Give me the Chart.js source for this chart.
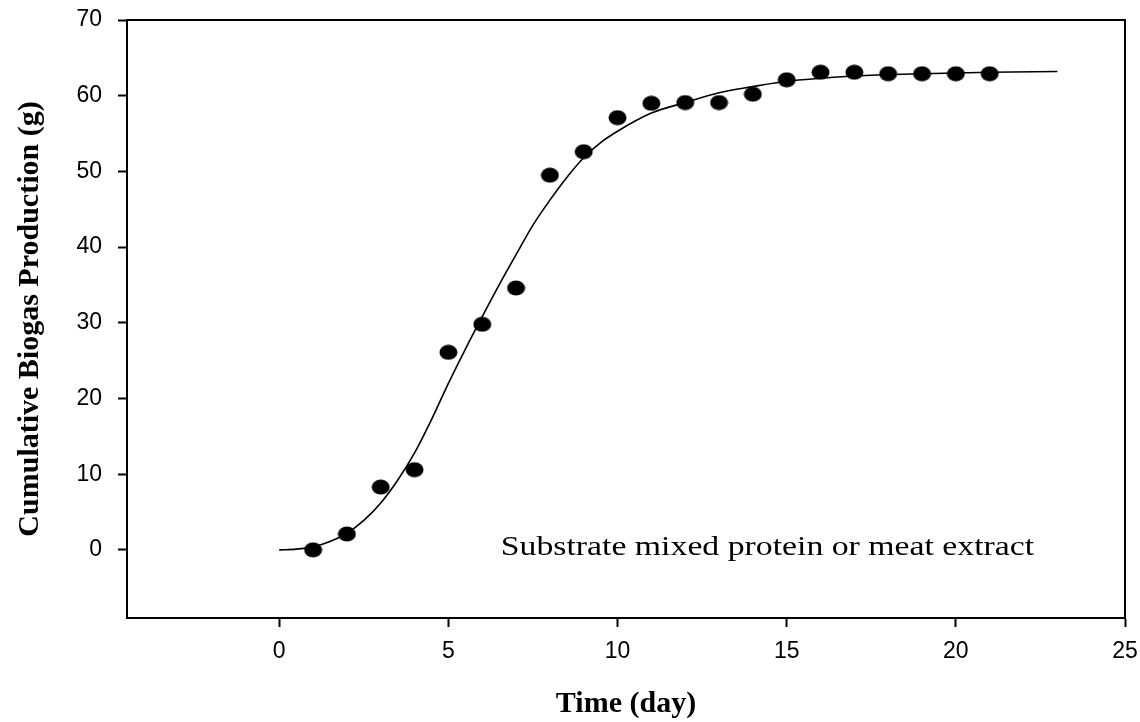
<!DOCTYPE html>
<html>
<head>
<meta charset="utf-8">
<script src="https://cdn.jsdelivr.net/npm/chart.js@4.4.1/dist/chart.umd.min.js"></script>
<style>
  body { margin: 0; background: #fff; }
  #wrap { width: 1140px; height: 722px; }
</style>
</head>
<body>
<div id="wrap"><canvas id="myChart"></canvas></div>
<script>
// measured points (day, cumulative biogas g)
const days = [1, 2, 3, 4, 5, 6, 7, 8, 9, 10, 11, 12, 13, 14, 15, 16, 17, 18, 19, 20, 21];
const biogas = [0.0, 2.1, 8.3, 10.6, 26.1, 29.8, 34.6, 49.5, 52.6, 57.1, 59.0, 59.1, 59.1, 60.2, 62.1, 63.1, 63.1, 62.9, 62.9, 62.9, 62.9];

// fitted curve
const fitDays = [0, 0.5, 1, 1.5, 2, 2.5, 3, 3.5, 4, 4.5, 5, 5.5, 6, 6.5, 7, 7.5, 8, 8.5, 9, 9.5, 10, 11, 12, 13, 14, 15, 16, 17, 18, 19, 20, 21, 23];
const fitBiogas = [0.0, 0.1, 0.4, 1.1, 2.2, 3.9, 6.2, 9.2, 12.8, 17.2, 22.0, 26.5, 30.8, 35.0, 39.0, 42.9, 46.2, 49.2, 51.8, 53.8, 55.3, 57.7, 59.1, 60.4, 61.2, 61.9, 62.3, 62.6, 62.8, 62.9, 63.0, 63.1, 63.2];

const xTicks = [0, 5, 10, 15, 20, 25];
const yTicks = [0, 10, 20, 30, 40, 50, 60, 70];

const noteText = 'Substrate mixed protein or meat extract';

function makeDot(w, h) {
    const c = document.createElement('canvas');
    c.width = w;
    c.height = h;
    const g = c.getContext('2d');
    g.fillStyle = '#000';
    g.beginPath();
    g.ellipse(w / 2, h / 2, w / 2 - 0.5, h / 2 - 0.5, 0, 0, Math.PI * 2);
    g.fill();
    return c;
}

// top + right edges of the box and the note inside the plot
const framePlugin = {
    id: 'frame',
    afterDraw(chart) {
        const ctx = chart.ctx;
        const a = chart.chartArea;
        ctx.save();
        ctx.strokeStyle = '#000';
        ctx.lineWidth = 2;
        ctx.beginPath();
        ctx.moveTo(a.left, a.top);
        ctx.lineTo(a.right, a.top);
        ctx.lineTo(a.right, a.bottom);
        ctx.stroke();

        const x = chart.scales.x.getPixelForValue(6.55);
        const y = chart.scales.y.getPixelForValue(0.2);
        ctx.translate(x, y);
        ctx.scale(1.25, 1);
        ctx.fillStyle = '#000';
        ctx.font = '27px "Liberation Serif", "Times New Roman", serif';
        ctx.textBaseline = 'middle';
        ctx.fillText(noteText, 0, 0);
        ctx.restore();
    }
};

const ctx = document.getElementById('myChart').getContext('2d');
new Chart(ctx, {
    type: 'scatter',
    data: {
        datasets: [{
            label: 'fit',
            data: fitDays.map((d, i) => ({ x: d, y: fitBiogas[i] })),
            showLine: true,
            borderColor: '#000',
            borderWidth: 1.6,
            pointRadius: 0,
            tension: 0.4,
            cubicInterpolationMode: 'monotone'
        }, {
            label: 'measured',
            data: days.map((d, i) => ({ x: d, y: biogas[i] })),
            pointStyle: makeDot(19, 16),
            backgroundColor: '#000',
            borderColor: '#000'
        }]
    },
    options: {
        responsive: true,
        maintainAspectRatio: false,
        animation: false,
        layout: { padding: { top: 20, right: 15, left: 0, bottom: 0 } },
        plugins: {
            legend: { display: false },
            tooltip: { enabled: false }
        },
        scales: {
            x: {
                type: 'linear',
                min: -4.5,
                max: 25,
                afterBuildTicks: scale => { scale.ticks = xTicks.map(v => ({ value: v })); },
                afterFit: scale => {
                    scale.height = 104;
                    scale.paddingLeft = 0;
                    scale.paddingRight = 0;
                },
                border: { color: '#000', width: 2 },
                grid: { drawOnChartArea: false, color: '#000', tickLength: 9, tickWidth: 2 },
                ticks: {
                    color: '#000',
                    padding: 11,
                    maxRotation: 0,
                    font: { family: '"Liberation Sans", Arial, sans-serif', size: 23 }
                },
                title: {
                    display: true,
                    text: 'Time (day)',
                    color: '#000',
                    padding: { top: 8, bottom: 0 },
                    font: { family: '"Liberation Serif", "Times New Roman", serif', size: 30, weight: 'bold' }
                }
            },
            y: {
                type: 'linear',
                min: -9,
                max: 70,
                afterBuildTicks: scale => { scale.ticks = yTicks.map(v => ({ value: v })); },
                afterFit: scale => {
                    scale.width = 127;
                    scale.paddingTop = 0;
                    scale.paddingBottom = 0;
                },
                border: { color: '#000', width: 2 },
                grid: { drawOnChartArea: false, color: '#000', tickLength: 9, tickWidth: 2 },
                ticks: {
                    color: '#000',
                    padding: 16,
                    font: { family: '"Liberation Sans", Arial, sans-serif', size: 23 }
                },
                title: {
                    display: true,
                    text: 'Cumulative Biogas Production (g)',
                    color: '#000',
                    padding: { top: 12, bottom: 0 },
                    font: { family: '"Liberation Serif", "Times New Roman", serif', size: 30, weight: 'bold' }
                }
            }
        }
    },
    plugins: [framePlugin]
});
</script>
</body>
</html>
